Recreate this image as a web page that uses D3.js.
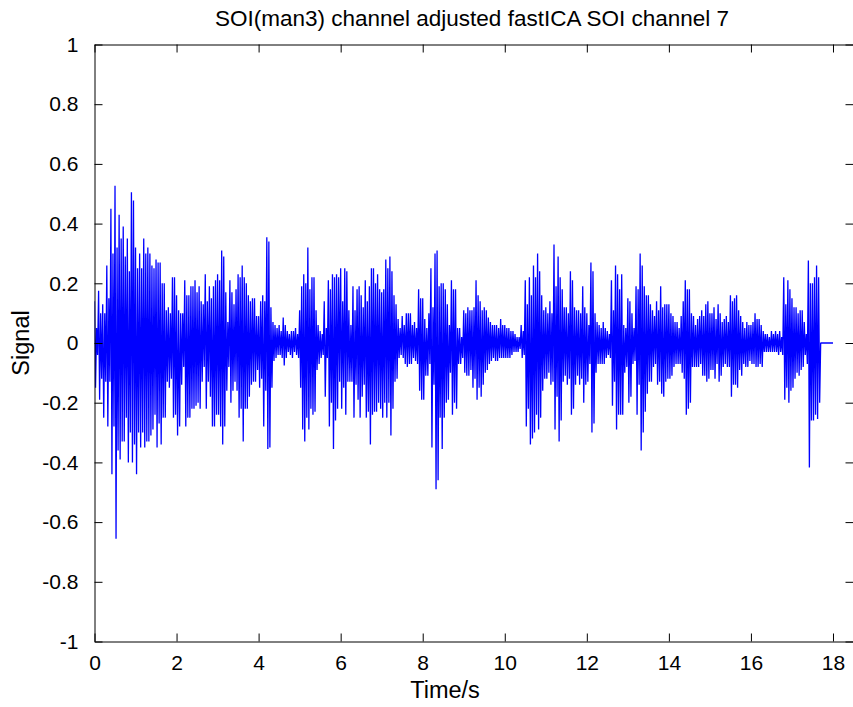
<!DOCTYPE html>
<html>
<head>
<meta charset="utf-8">
<script src="https://cdn.jsdelivr.net/npm/d3@7/dist/d3.min.js"></script>
<style>
  html, body { margin: 0; padding: 0; background: #fff; }
  svg { display: block; }
  text { font-family: "Liberation Sans", Arial, Helvetica, sans-serif; fill: #000; }
</style>
</head>
<body>
<svg id="chart" width="853" height="707"></svg>
<script>
// Separated source 7 (fastICA): two high and two low peaks per 0.1 s window.
const windowStep = 0.1;   // seconds per window
const traceEnd = 18.0;    // recording (zero-padded) ends here

const peakHigh = [
  0.14, 0.175, 0.13, 0.26, 0.45, 0.527, 0.43, 0.39, 0.35, 0.505,
  0.32, 0.30, 0.35, 0.32, 0.26, 0.28, 0.27, 0.20, 0.12, 0.22,
  0.16, 0.10, 0.21, 0.16, 0.19, 0.17, 0.14, 0.23, 0.19, 0.19,
  0.23, 0.31, 0.17, 0.21, 0.13, 0.23, 0.26, 0.20, 0.14, 0.15,
  0.09, 0.16, 0.354, 0.12, 0.06, 0.06, 0.085, 0.04, 0.04, 0.05,
  0.11, 0.23, 0.32, 0.22, 0.11, 0.04, 0.14, 0.21, 0.23, 0.23,
  0.25, 0.25, 0.11, 0.19, 0.18, 0.16, 0.21, 0.19, 0.25, 0.23,
  0.17, 0.28, 0.29, 0.16, 0.08, 0.09, 0.10, 0.10, 0.07, 0.18,
  0.15, 0.05, 0.25, 0.30, 0.19, 0.20, 0.13, 0.21, 0.18, 0.05,
  0.11, 0.12, 0.11, 0.21, 0.14, 0.12, 0.085, 0.06, 0.06, 0.08,
  0.06, 0.05, 0.04, 0.02, 0.06, 0.21, 0.22, 0.26, 0.30, 0.16,
  0.12, 0.14, 0.33, 0.29, 0.18, 0.12, 0.24, 0.12, 0.11, 0.19,
  0.10, 0.27, 0.10, 0.06, 0.07, 0.04, 0.21, 0.26, 0.18, 0.06,
  0.15, 0.10, 0.19, 0.30, 0.19, 0.16, 0.11, 0.14, 0.19, 0.13,
  0.13, 0.09, 0.07, 0.09, 0.21, 0.18, 0.09, 0.08, 0.11, 0.13,
  0.10, 0.12, 0.13, 0.07, 0.09, 0.16, 0.15, 0.11, 0.07, 0.07,
  0.06, 0.10, 0.08, 0.04, 0.03, 0.04, 0.04, 0.04, 0.22, 0.21,
  0.15, 0.12, 0.11, 0.07, 0.276, 0.20, 0.26, 0, 0, 0
];

const peakLow = [
  -0.15, -0.19, -0.25, -0.28, -0.44, -0.656, -0.39, -0.33, -0.40, -0.40,
  -0.44, -0.35, -0.35, -0.33, -0.29, -0.35, -0.34, -0.25, -0.15, -0.25,
  -0.31, -0.14, -0.28, -0.25, -0.22, -0.20, -0.13, -0.22, -0.18, -0.28,
  -0.24, -0.34, -0.16, -0.20, -0.13, -0.25, -0.33, -0.22, -0.14, -0.13,
  -0.15, -0.28, -0.355, -0.15, -0.05, -0.04, -0.075, -0.03, -0.05, -0.04,
  -0.15, -0.33, -0.29, -0.24, -0.09, -0.05, -0.18, -0.28, -0.355, -0.22,
  -0.22, -0.24, -0.13, -0.25, -0.19, -0.18, -0.25, -0.34, -0.23, -0.20,
  -0.25, -0.25, -0.31, -0.13, -0.05, -0.05, -0.08, -0.07, -0.06, -0.16,
  -0.19, -0.11, -0.35, -0.49, -0.25, -0.25, -0.19, -0.24, -0.22, -0.07,
  -0.10, -0.11, -0.15, -0.19, -0.18, -0.10, -0.07, -0.05, -0.06, -0.05,
  -0.05, -0.05, -0.03, -0.03, -0.05, -0.28, -0.34, -0.30, -0.29, -0.16,
  -0.12, -0.14, -0.29, -0.33, -0.13, -0.14, -0.24, -0.14, -0.14, -0.20,
  -0.13, -0.30, -0.10, -0.07, -0.07, -0.04, -0.21, -0.29, -0.24, -0.10,
  -0.20, -0.07, -0.24, -0.36, -0.23, -0.13, -0.08, -0.14, -0.17, -0.13,
  -0.12, -0.08, -0.07, -0.10, -0.24, -0.20, -0.08, -0.08, -0.11, -0.13,
  -0.09, -0.12, -0.13, -0.08, -0.08, -0.18, -0.14, -0.09, -0.07, -0.08,
  -0.07, -0.08, -0.07, -0.03, -0.03, -0.03, -0.03, -0.03, -0.19, -0.20,
  -0.15, -0.10, -0.09, -0.04, -0.417, -0.26, -0.255, 0, 0, 0
];

const secondHigh = [
  0.05, 0.10, 0.10, 0.15, 0.30, 0.32, 0.35, 0.29, 0.24, 0.477,
  0.25, 0.25, 0.30, 0.30, 0.25, 0.27, 0.20, 0.11, 0.10, 0.22,
  0.11, 0.10, 0.16, 0.19, 0.21, 0.19, 0.13, 0.14, 0.15, 0.21,
  0.21, 0.29, 0.07, 0.17, 0.18, 0.22, 0.22, 0.16, 0.15, 0.09,
  0.14, 0.14, 0.34, 0.07, 0.05, 0.04, 0.06, 0.03, 0.04, 0.03,
  0.19, 0.20, 0.18, 0.22, 0.06, 0.03, 0.05, 0.18, 0.22, 0.22,
  0.14, 0.24, 0.06, 0.11, 0.19, 0.12, 0.14, 0.25, 0.20, 0.18,
  0.18, 0.25, 0.24, 0.13, 0.05, 0.06, 0.10, 0.06, 0.05, 0.15,
  0.08, 0.10, 0.12, 0.31, 0.20, 0.18, 0.06, 0.18, 0.05, 0.02,
  0.10, 0.11, 0.12, 0.16, 0.11, 0.11, 0.07, 0.06, 0.05, 0.06,
  0.05, 0.04, 0.03, 0.02, 0.04, 0.13, 0.16, 0.22, 0.24, 0.11,
  0.10, 0.10, 0.19, 0.22, 0.12, 0.10, 0.21, 0.11, 0.10, 0.12,
  0.06, 0.24, 0.07, 0.05, 0.05, 0.03, 0.11, 0.23, 0.23, 0.05,
  0.14, 0.05, 0.18, 0.26, 0.16, 0.13, 0.09, 0.11, 0.12, 0.13,
  0.10, 0.07, 0.05, 0.14, 0.18, 0.10, 0.06, 0.09, 0.09, 0.14,
  0.10, 0.08, 0.10, 0.08, 0.07, 0.14, 0.16, 0.09, 0.05, 0.06,
  0.07, 0.08, 0.06, 0.03, 0.02, 0.03, 0.03, 0.02, 0.13, 0.18,
  0.12, 0.10, 0.11, 0.03, 0.20, 0.22, 0.22, 0, 0, 0
];

const secondLow = [
  -0.04, -0.12, -0.13, -0.13, -0.28, -0.36, -0.33, -0.25, -0.30, -0.34,
  -0.30, -0.30, -0.33, -0.31, -0.24, -0.27, -0.25, -0.13, -0.12, -0.24,
  -0.28, -0.08, -0.25, -0.22, -0.21, -0.22, -0.08, -0.13, -0.28, -0.24,
  -0.28, -0.28, -0.08, -0.16, -0.16, -0.22, -0.22, -0.18, -0.13, -0.09,
  -0.12, -0.16, -0.35, -0.06, -0.04, -0.05, -0.05, -0.04, -0.03, -0.05,
  -0.29, -0.25, -0.22, -0.23, -0.07, -0.04, -0.05, -0.20, -0.26, -0.13,
  -0.15, -0.13, -0.13, -0.14, -0.25, -0.14, -0.23, -0.24, -0.23, -0.22,
  -0.20, -0.20, -0.22, -0.12, -0.04, -0.07, -0.07, -0.05, -0.07, -0.19,
  -0.11, -0.07, -0.14, -0.46, -0.355, -0.20, -0.10, -0.20, -0.07, -0.05,
  -0.11, -0.09, -0.12, -0.15, -0.14, -0.09, -0.06, -0.06, -0.05, -0.05,
  -0.05, -0.04, -0.03, -0.02, -0.04, -0.22, -0.32, -0.24, -0.25, -0.12,
  -0.10, -0.13, -0.18, -0.26, -0.11, -0.12, -0.22, -0.11, -0.12, -0.14,
  -0.07, -0.27, -0.07, -0.07, -0.05, -0.05, -0.13, -0.24, -0.24, -0.08,
  -0.18, -0.06, -0.14, -0.30, -0.17, -0.13, -0.07, -0.13, -0.18, -0.12,
  -0.11, -0.07, -0.07, -0.12, -0.22, -0.08, -0.08, -0.07, -0.11, -0.12,
  -0.09, -0.07, -0.11, -0.07, -0.08, -0.14, -0.15, -0.11, -0.08, -0.06,
  -0.07, -0.08, -0.08, -0.03, -0.03, -0.03, -0.04, -0.04, -0.15, -0.16,
  -0.12, -0.11, -0.08, -0.07, -0.26, -0.24, -0.20, 0, 0, 0
];

const xTickValues = [0, 2, 4, 6, 8, 10, 12, 14, 16, 18];
const xTickLabels = ["0", "2", "4", "6", "8", "10", "12", "14", "16", "18"];
const yTickValues = [-1, -0.8, -0.6, -0.4, -0.2, 0, 0.2, 0.4, 0.6, 0.8, 1];
const yTickLabels = ["-1", "-0.8", "-0.6", "-0.4", "-0.2", "0", "0.2", "0.4", "0.6", "0.8", "1"];

const titleText = "SOI(man3) channel adjusted fastICA SOI channel 7";
const xLabelText = "Time/s";
const yLabelText = "Signal";

// ---- layout ----
const svg = d3.select("#chart");
const plot = { left: 94.5, right: 853.5, top: 44.5, bottom: 641.5 };
const tickLen = 8;
const fontSize = 21;

const x = d3.scaleLinear().domain([0, 18.5]).range([plot.left, plot.right]);
const y = d3.scaleLinear().domain([-1, 1]).range([plot.bottom, plot.top]);

// ---- trace: each window swings high, low, high, low ----
const trace = [];
peakHigh.forEach((hi, i) => {
  const t0 = i * windowStep;
  const q = windowStep / 4;
  trace.push([t0, hi]);
  trace.push([t0 + q, peakLow[i]]);
  trace.push([t0 + 2 * q, secondHigh[i]]);
  trace.push([t0 + 3 * q, secondLow[i]]);
});
trace.push([traceEnd, 0]);

const clipId = "plot-clip";
svg.append("clipPath").attr("id", clipId)
  .append("rect")
  .attr("x", plot.left).attr("y", plot.top)
  .attr("width", plot.right - plot.left).attr("height", plot.bottom - plot.top);

svg.append("path")
  .datum(trace)
  .attr("clip-path", `url(#${clipId})`)
  .attr("fill", "none")
  .attr("stroke", "#0000ff")
  .attr("stroke-width", 1.3)
  .attr("stroke-linejoin", "bevel")
  .attr("d", d3.line().x(d => x(d[0])).y(d => y(d[1])));

// ---- axes: box with inward ticks ----
const axisG = svg.append("g");

const bottomAxis = d3.axisBottom(x).tickValues(xTickValues)
  .tickFormat((d, i) => xTickLabels[i]).tickSizeInner(-tickLen).tickSizeOuter(0).tickPadding(14);
const topAxis = d3.axisTop(x).tickValues(xTickValues)
  .tickFormat("").tickSizeInner(-tickLen).tickSizeOuter(0);
const leftAxis = d3.axisLeft(y).tickValues(yTickValues)
  .tickFormat((d, i) => yTickLabels[i]).tickSizeInner(-tickLen).tickSizeOuter(0).tickPadding(16);
const rightAxis = d3.axisRight(y).tickValues(yTickValues)
  .tickFormat("").tickSizeInner(-tickLen).tickSizeOuter(0);

function styleAxis(g) {
  g.select(".domain").attr("stroke", "#000").attr("stroke-width", 1);
  g.selectAll(".tick line").attr("stroke", "#000").attr("stroke-width", 1);
  g.selectAll(".tick text")
    .attr("fill", "#000")
    .style("font-family", '"Liberation Sans", Arial, Helvetica, sans-serif')
    .style("font-size", fontSize + "px");
}

axisG.append("g").attr("transform", `translate(0,${plot.bottom})`).call(bottomAxis).call(styleAxis);
axisG.append("g").attr("transform", `translate(0,${plot.top})`).call(topAxis).call(styleAxis);
axisG.append("g").attr("transform", `translate(${plot.left},0)`).call(leftAxis).call(styleAxis);
axisG.append("g").attr("transform", `translate(${plot.right},0)`).call(rightAxis).call(styleAxis);

// ---- titles ----
svg.append("text")
  .attr("x", 472)
  .attr("y", 26)
  .attr("text-anchor", "middle")
  .style("font-size", "22.5px")
  .text(titleText);

svg.append("text")
  .attr("x", 445)
  .attr("y", 698)
  .attr("text-anchor", "middle")
  .style("font-size", "23.5px")
  .text(xLabelText);

svg.append("text")
  .attr("transform", `translate(29,${y(0)}) rotate(-90)`)
  .attr("text-anchor", "middle")
  .style("font-size", "23.5px")
  .text(yLabelText);
</script>
</body>
</html>
